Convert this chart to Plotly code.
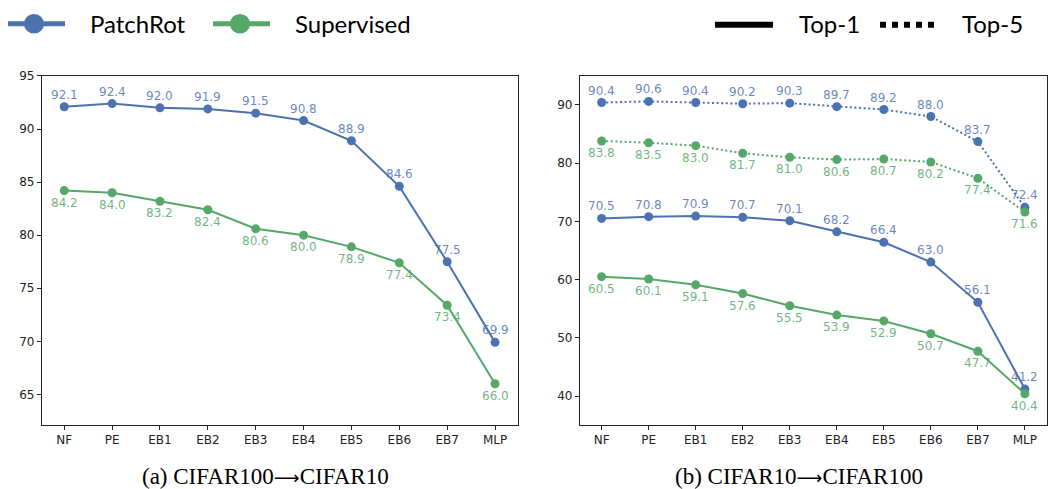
import plotly.graph_objects as go

W, H = 1053, 489

categories = ["NF", "PE", "EB1", "EB2", "EB3", "EB4", "EB5", "EB6", "EB7", "MLP"]

# (a) CIFAR100 -> CIFAR10
a_patchrot = [92.1, 92.4, 92.0, 91.9, 91.5, 90.8, 88.9, 84.6, 77.5, 69.9]
a_supervised = [84.2, 84.0, 83.2, 82.4, 80.6, 80.0, 78.9, 77.4, 73.4, 66.0]

# (b) CIFAR10 -> CIFAR100
b_patchrot_top5 = [90.4, 90.6, 90.4, 90.2, 90.3, 89.7, 89.2, 88.0, 83.7, 72.4]
b_supervised_top5 = [83.8, 83.5, 83.0, 81.7, 81.0, 80.6, 80.7, 80.2, 77.4, 71.6]
b_patchrot_top1 = [70.5, 70.8, 70.9, 70.7, 70.1, 68.2, 66.4, 63.0, 56.1, 41.2]
b_supervised_top1 = [60.5, 60.1, 59.1, 57.6, 55.5, 53.9, 52.9, 50.7, 47.7, 40.4]

a_yticks = [65, 70, 75, 80, 85, 90, 95]
b_yticks = [40, 50, 60, 70, 80, 90]

ARROW = "<span style=\"font-family:'DejaVu Sans';font-size:18px\">\u27f6</span>"
captions = ["(a) CIFAR100" + ARROW + "CIFAR10", "(b) CIFAR10" + ARROW + "CIFAR100"]
legend_series = ["PatchRot", "Supervised"]
legend_styles = ["Top-1", "Top-5"]

BLUE = "#4C72B0"
GREEN = "#55A868"
BLUE_T = "rgba(76,114,176,0.85)"
GREEN_T = "rgba(85,168,104,0.85)"

xs = list(range(len(categories)))

fig = go.Figure()

def add_series(vals, color, dash, xa, ya):
    fig.add_trace(go.Scatter(
        x=xs, y=vals, mode="lines+markers",
        line=dict(color=color, width=2, dash=dash),
        marker=dict(color=color, size=9),
        xaxis=xa, yaxis=ya, showlegend=False, hoverinfo="skip"))

def add_labels(vals, color, shift, xa, ya):
    for x, v in zip(xs, vals):
        fig.add_annotation(x=x, y=v, xref=xa, yref=ya, text=f"{v:.1f}",
                           showarrow=False, yshift=shift,
                           font=dict(family="DejaVu Sans", size=12, color=color))

# panel a
add_series(a_patchrot, BLUE, "solid", "x", "y")
add_series(a_supervised, GREEN, "solid", "x", "y")
add_labels(a_patchrot, BLUE_T, 12, "x", "y")
add_labels(a_supervised, GREEN_T, -12, "x", "y")

# panel b
DOT = "2px,2.6px"
add_series(b_patchrot_top5, BLUE, DOT, "x2", "y2")
add_series(b_patchrot_top1, BLUE, "solid", "x2", "y2")
add_series(b_supervised_top5, GREEN, DOT, "x2", "y2")
add_series(b_supervised_top1, GREEN, "solid", "x2", "y2")
add_labels(b_patchrot_top5, BLUE_T, 12, "x2", "y2")
add_labels(b_patchrot_top1, BLUE_T, 12, "x2", "y2")
add_labels(b_supervised_top5, GREEN_T, -12, "x2", "y2")
add_labels(b_supervised_top1, GREEN_T, -12, "x2", "y2")

def px_x(p):
    return p / W

def px_y(p):
    return 1 - p / H

axis_common = dict(showline=True, mirror=True, linecolor="#222", linewidth=1.2,
                   ticks="outside", ticklen=4, tickcolor="#222", tickwidth=1,
                   showgrid=False, zeroline=False,
                   tickfont=dict(family="DejaVu Sans", size=12, color="#222"))

fig.update_layout(
    width=W, height=H,
    margin=dict(l=0, r=0, t=0, b=0),
    paper_bgcolor="white", plot_bgcolor="white",
    xaxis=dict(domain=[px_x(42), px_x(518)], range=[-0.465, 9.48],
               tickvals=xs, ticktext=categories, anchor="y", **axis_common),
    yaxis=dict(domain=[px_y(424), px_y(70)], range=[62.12, 95.0],
               tickvals=a_yticks, anchor="x", **axis_common),
    xaxis2=dict(domain=[px_x(580), px_x(1047)], range=[-0.46, 9.47],
                tickvals=xs, ticktext=categories, anchor="y2", **axis_common),
    yaxis2=dict(domain=[px_y(424), px_y(70)], range=[35.04, 94.96],
                tickvals=b_yticks, anchor="x2", **axis_common),
)

# captions
for cx, text in zip([265, 799], captions):
    fig.add_annotation(x=px_x(cx), y=px_y(476), xref="paper", yref="paper",
                       text=text, showarrow=False, xanchor="center", yanchor="middle",
                       font=dict(family="Liberation Serif", size=23, color="black"))

# custom legend
shapes = []
for (x0, x1, cxm, color) in [(8, 65, 34, BLUE), (213, 270, 240, GREEN)]:
    shapes.append(dict(type="line", xref="paper", yref="paper",
                       x0=px_x(x0), x1=px_x(x1), y0=px_y(17), y1=px_y(17),
                       line=dict(color=color, width=5)))
    shapes.append(dict(type="circle", xref="paper", yref="paper",
                       x0=px_x(cxm - 10), x1=px_x(cxm + 10),
                       y0=px_y(27), y1=px_y(7),
                       fillcolor=color, line=dict(color=color, width=0)))
shapes.append(dict(type="line", xref="paper", yref="paper",
                   x0=px_x(715), x1=px_x(773), y0=px_y(18), y1=px_y(18),
                   line=dict(color="black", width=6)))
shapes.append(dict(type="line", xref="paper", yref="paper",
                   x0=px_x(880), x1=px_x(940), y0=px_y(18), y1=px_y(18),
                   line=dict(color="black", width=6, dash="dot")))
fig.update_layout(shapes=shapes)

for lx, text in zip([88, 293, 797, 960], legend_series + legend_styles):
    fig.add_annotation(x=px_x(lx), y=px_y(17), xref="paper", yref="paper",
                       text=text, showarrow=False, xanchor="left", yanchor="middle",
                       font=dict(family="Lato", size=24, color="black"))

fig.write_html(
    "out.html",
    config={"displayModeBar": False},
    post_script="document.body.style.margin='0px';document.body.style.overflow='hidden';",
)
